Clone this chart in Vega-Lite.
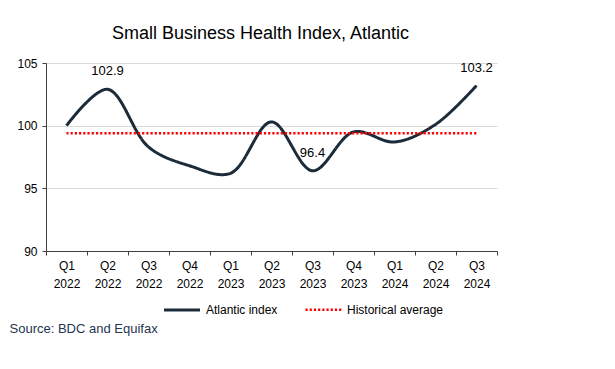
{
  "$schema": "https://vega.github.io/schema/vega-lite/v6.json",
  "autosize": {"type": "none"},
  "width": 451,
  "height": 188,
  "padding": {"left": 46, "top": 63, "right": 118, "bottom": 118},
  "background": "white",
  "title": {
    "text": "Small Business Health Index, Atlantic",
    "font": "Liberation Sans",
    "fontSize": 18,
    "fontWeight": "normal",
    "color": "#000000",
    "anchor": "middle",
    "dx": -11,
    "offset": 14
  },
  "data": {
    "values": [
      {"q": "Q1 2022", "series": "Atlantic index", "value": 100.0},
      {"q": "Q2 2022", "series": "Atlantic index", "value": 102.9, "label": "102.9"},
      {"q": "Q3 2022", "series": "Atlantic index", "value": 98.3},
      {"q": "Q4 2022", "series": "Atlantic index", "value": 96.8},
      {"q": "Q1 2023", "series": "Atlantic index", "value": 96.2},
      {"q": "Q2 2023", "series": "Atlantic index", "value": 100.3},
      {"q": "Q3 2023", "series": "Atlantic index", "value": 96.4, "label": "96.4"},
      {"q": "Q4 2023", "series": "Atlantic index", "value": 99.5},
      {"q": "Q1 2024", "series": "Atlantic index", "value": 98.7},
      {"q": "Q2 2024", "series": "Atlantic index", "value": 100.1},
      {"q": "Q3 2024", "series": "Atlantic index", "value": 103.2, "label": "103.2"},
      {"q": "Q1 2022", "series": "Historical average", "value": 99.4},
      {"q": "Q2 2022", "series": "Historical average", "value": 99.4},
      {"q": "Q3 2022", "series": "Historical average", "value": 99.4},
      {"q": "Q4 2022", "series": "Historical average", "value": 99.4},
      {"q": "Q1 2023", "series": "Historical average", "value": 99.4},
      {"q": "Q2 2023", "series": "Historical average", "value": 99.4},
      {"q": "Q3 2023", "series": "Historical average", "value": 99.4},
      {"q": "Q4 2023", "series": "Historical average", "value": 99.4},
      {"q": "Q1 2024", "series": "Historical average", "value": 99.4},
      {"q": "Q2 2024", "series": "Historical average", "value": 99.4},
      {"q": "Q3 2024", "series": "Historical average", "value": 99.4}
    ]
  },
  "encoding": {
    "x": {
      "field": "q",
      "type": "ordinal",
      "sort": null,
      "bandPosition": 0.5,
      "scale": {"type": "band", "paddingInner": 0, "paddingOuter": 0},
      "axis": {
        "title": "Source: BDC and Equifax",
        "titleFont": "Liberation Sans",
        "titleFontSize": 13,
        "titleFontWeight": "normal",
        "titleColor": "#1f3550",
        "titleAnchor": "start",
        "titleAlign": "left",
        "titleBaseline": "middle",
        "titleX": -37,
        "titleY": 77,
        "labelAngle": 0,
        "labelExpr": "split(datum.label, ' ')",
        "labelFont": "Liberation Sans",
        "labelFontSize": 12,
        "labelColor": "#000000",
        "labelPadding": 5,
        "labelLineHeight": 18,
        "tickBand": "extent",
        "tickSize": 4,
        "tickColor": "#404040",
        "domainColor": "#404040",
        "grid": false
      }
    },
    "y": {
      "field": "value",
      "type": "quantitative",
      "scale": {"domain": [90, 105], "zero": false, "nice": false},
      "axis": {
        "title": null,
        "values": [90, 95, 100, 105],
        "labelFont": "Liberation Sans",
        "labelFontSize": 12,
        "labelColor": "#000000",
        "labelPadding": 5,
        "tickSize": 4,
        "tickColor": "#404040",
        "domainColor": "#404040",
        "gridColor": "#d9d9d9",
        "gridWidth": 1
      }
    }
  },
  "layer": [
    {
      "mark": {"type": "line", "interpolate": "catmull-rom", "strokeCap": "butt"},
      "encoding": {
        "color": {
          "field": "series",
          "type": "nominal",
          "scale": {"domain": ["Atlantic index", "Historical average"], "range": ["#1c2b39", "#ff0000"]},
          "legend": {
            "title": null,
            "orient": "none",
            "direction": "horizontal",
            "legendX": 116,
            "legendY": 227,
            "labelFont": "Liberation Sans",
            "labelFontSize": 12,
            "labelColor": "#000000",
            "symbolType": "stroke",
            "symbolSize": 1300,
            "symbolStrokeWidth": 3,
            "labelOffset": 4,
            "columnPadding": 22
          }
        },
        "strokeDash": {
          "field": "series",
          "type": "nominal",
          "scale": {"domain": ["Atlantic index", "Historical average"], "range": [[1, 0], [2.2, 2]]},
          "legend": null
        },
        "strokeWidth": {
          "field": "series",
          "type": "nominal",
          "scale": {"domain": ["Atlantic index", "Historical average"], "range": [3, 2.5]},
          "legend": null
        }
      }
    },
    {
      "transform": [{"filter": "datum.label != null"}],
      "mark": {"type": "text", "dy": -18, "font": "Liberation Sans", "fontSize": 13, "color": "#000000", "baseline": "middle"},
      "encoding": {"text": {"field": "label", "type": "nominal"}}
    }
  ],
  "config": {"view": {"stroke": null}}
}
